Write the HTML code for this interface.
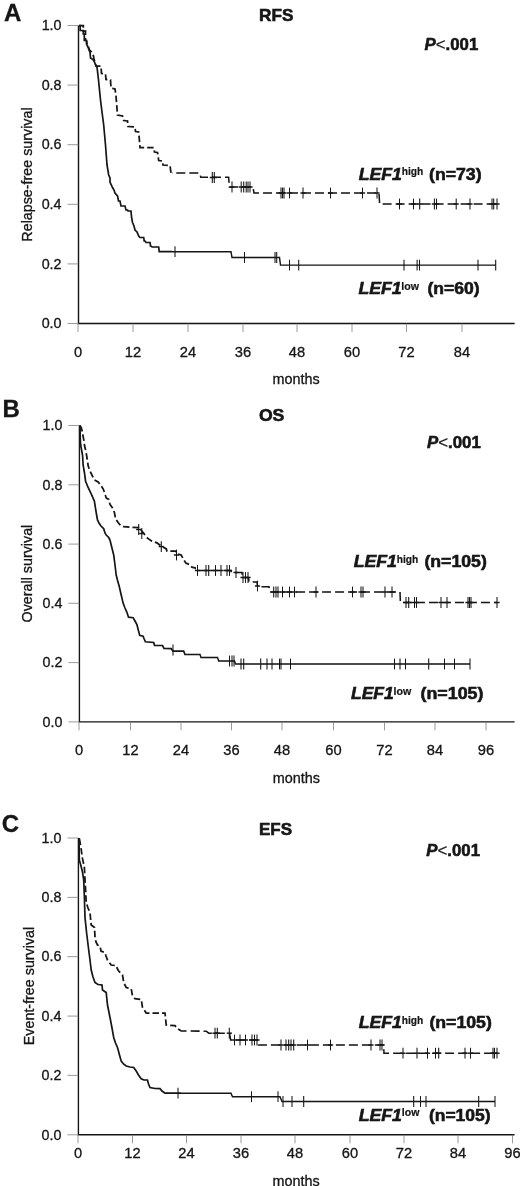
<!DOCTYPE html>
<html lang="en">
<head>
<meta charset="utf-8">
<title>LEF1 survival curves</title>
<style>
html,body{margin:0;padding:0;background:#fff;}
svg{display:block;font-family:"Liberation Sans", Arial, Helvetica, sans-serif;fill:#141414;}
</style>
</head>
<body>
<svg width="520" height="1186" viewBox="0 0 520 1186">
<rect width="520" height="1186" fill="#ffffff"/>
<filter id="soft" x="0" y="0" width="520" height="1186" filterUnits="userSpaceOnUse"><feGaussianBlur stdDeviation="0.4"/></filter>
<g filter="url(#soft)">
<path d="M78.5,25.5 V323.5 H514.6" fill="none" stroke="#141414" stroke-width="1.4"/>
<line x1="67.5" y1="25.5" x2="78.5" y2="25.5" stroke="#7a7a7a" stroke-width="0.75"/>
<text x="61.5" y="30.2" text-anchor="end" font-size="14.3" stroke="#141414" stroke-width="0.3">1.0</text>
<line x1="67.5" y1="85.1" x2="78.5" y2="85.1" stroke="#7a7a7a" stroke-width="0.75"/>
<text x="61.5" y="89.8" text-anchor="end" font-size="14.3" stroke="#141414" stroke-width="0.3">0.8</text>
<line x1="67.5" y1="144.7" x2="78.5" y2="144.7" stroke="#7a7a7a" stroke-width="0.75"/>
<text x="61.5" y="149.4" text-anchor="end" font-size="14.3" stroke="#141414" stroke-width="0.3">0.6</text>
<line x1="67.5" y1="204.3" x2="78.5" y2="204.3" stroke="#7a7a7a" stroke-width="0.75"/>
<text x="61.5" y="209.0" text-anchor="end" font-size="14.3" stroke="#141414" stroke-width="0.3">0.4</text>
<line x1="67.5" y1="263.9" x2="78.5" y2="263.9" stroke="#7a7a7a" stroke-width="0.75"/>
<text x="61.5" y="268.6" text-anchor="end" font-size="14.3" stroke="#141414" stroke-width="0.3">0.2</text>
<line x1="67.5" y1="323.5" x2="78.5" y2="323.5" stroke="#7a7a7a" stroke-width="0.75"/>
<text x="61.5" y="328.2" text-anchor="end" font-size="14.3" stroke="#141414" stroke-width="0.3">0.0</text>
<line x1="78" y1="323.5" x2="78" y2="332.0" stroke="#7a7a7a" stroke-width="0.75"/>
<text x="78" y="356.7" text-anchor="middle" font-size="14.7" stroke="#141414" stroke-width="0.3">0</text>
<line x1="133" y1="323.5" x2="133" y2="332.0" stroke="#7a7a7a" stroke-width="0.75"/>
<text x="133" y="356.7" text-anchor="middle" font-size="14.7" stroke="#141414" stroke-width="0.3">12</text>
<line x1="188" y1="323.5" x2="188" y2="332.0" stroke="#7a7a7a" stroke-width="0.75"/>
<text x="188" y="356.7" text-anchor="middle" font-size="14.7" stroke="#141414" stroke-width="0.3">24</text>
<line x1="243" y1="323.5" x2="243" y2="332.0" stroke="#7a7a7a" stroke-width="0.75"/>
<text x="243" y="356.7" text-anchor="middle" font-size="14.7" stroke="#141414" stroke-width="0.3">36</text>
<line x1="297" y1="323.5" x2="297" y2="332.0" stroke="#7a7a7a" stroke-width="0.75"/>
<text x="297" y="356.7" text-anchor="middle" font-size="14.7" stroke="#141414" stroke-width="0.3">48</text>
<line x1="352" y1="323.5" x2="352" y2="332.0" stroke="#7a7a7a" stroke-width="0.75"/>
<text x="352" y="356.7" text-anchor="middle" font-size="14.7" stroke="#141414" stroke-width="0.3">60</text>
<line x1="406.5" y1="323.5" x2="406.5" y2="332.0" stroke="#7a7a7a" stroke-width="0.75"/>
<text x="406.5" y="356.7" text-anchor="middle" font-size="14.7" stroke="#141414" stroke-width="0.3">72</text>
<line x1="462" y1="323.5" x2="462" y2="332.0" stroke="#7a7a7a" stroke-width="0.75"/>
<text x="462" y="356.7" text-anchor="middle" font-size="14.7" stroke="#141414" stroke-width="0.3">84</text>
<text x="272.6" y="384.2" font-size="14.4" stroke="#141414" stroke-width="0.3">months</text>
<text x="4.0" y="20.5" font-size="24" font-weight="bold" stroke="#141414" stroke-width="0.3">A</text>
<text x="259.0" y="20.8" font-size="16.6" font-weight="bold" textLength="34.4" lengthAdjust="spacingAndGlyphs" stroke="#141414" stroke-width="0.55">RFS</text>
<text x="424.6" y="49.8" font-size="16.8" font-weight="bold" textLength="53.7" lengthAdjust="spacingAndGlyphs" stroke="#141414" stroke-width="0.55"><tspan font-style="italic">P</tspan><tspan font-weight="normal" stroke-width="0.2">&lt;</tspan>.001</text>
<text transform="translate(32.0,174.5) rotate(-90)" text-anchor="middle" font-size="14.3" stroke="#141414" stroke-width="0.3">Relapse-free survival</text>
<text x="358.7" y="180.0" font-size="16" font-weight="bold" font-style="italic" textLength="43.2" lengthAdjust="spacingAndGlyphs" stroke="#141414" stroke-width="0.55">LEF1</text>
<text x="401.8" y="175.4" font-size="10.2" font-weight="bold" textLength="21.5" lengthAdjust="spacingAndGlyphs" stroke="#141414" stroke-width="0.2">high</text>
<text x="429.0" y="179.8" font-size="16.3" font-weight="bold" textLength="52.6" lengthAdjust="spacingAndGlyphs" stroke="#141414" stroke-width="0.55">(n=73)</text>
<text x="358.4" y="294.2" font-size="16" font-weight="bold" font-style="italic" textLength="43.1" lengthAdjust="spacingAndGlyphs" stroke="#141414" stroke-width="0.55">LEF1</text>
<text x="401.3" y="289.6" font-size="10.2" font-weight="bold" textLength="17.7" lengthAdjust="spacingAndGlyphs" stroke="#141414" stroke-width="0.2">low</text>
<text x="427.5" y="293.8" font-size="16.3" font-weight="bold" textLength="52.2" lengthAdjust="spacingAndGlyphs" stroke="#141414" stroke-width="0.55">(n=60)</text>
<clipPath id="clipAL"><rect x="0" y="17.5" width="172" height="306.0"/></clipPath>
<clipPath id="clipAR"><rect x="172" y="17.5" width="348" height="306.0"/></clipPath>
<path d="M79.0,25.5 L80.2,25.5 L80.2,30.5 L83.3,30.5 L83.3,34.0 L84.3,34.0 L84.3,40.5 L86.5,40.5 L86.5,44.0 L88.0,47.0 L89.0,50.0 L90.0,52.0 L90.5,58.0 L93.0,59.5 L94.5,62.0 L96.0,66.0 L97.0,67.0 L98.5,80.0 L100.5,100.0 L102.0,112.0 L103.7,125.0 L105.5,145.0 L107.0,165.0 L108.7,175.0 L110.0,178.0 L110.0,182.0 L112.5,187.5 L114.0,190.0 L115.0,193.0 L117.5,196.0 L118.5,201.0 L120.0,201.0 L121.0,206.0 L125.0,206.0 L126.0,210.0 L127.5,210.0 L128.0,211.0 L131.0,211.0 L131.5,217.0 L132.5,222.5 L134.0,226.0 L135.0,230.0 L137.0,232.0 L138.7,236.0 L140.0,237.5 L143.7,237.5 L144.2,241.0 L145.0,241.0 L146.0,242.5 L150.0,242.5 L150.5,246.0 L151.0,246.0 L152.0,247.0 L158.7,247.0 L159.2,251.7 L231.0,251.7 L232.0,257.5 L279.5,257.5 L280.5,265.1 L495.7,265.1" fill="none" stroke="#141414" stroke-width="1.7" stroke-linejoin="miter" clip-path="url(#clipAL)"/>
<path d="M79.0,25.5 L80.2,25.5 L80.2,30.5 L83.3,30.5 L83.3,34.0 L84.3,34.0 L84.3,40.5 L86.5,40.5 L86.5,44.0 L88.0,47.0 L89.0,50.0 L90.0,52.0 L90.5,58.0 L93.0,59.5 L94.5,62.0 L96.0,66.0 L97.0,67.0 L98.5,80.0 L100.5,100.0 L102.0,112.0 L103.7,125.0 L105.5,145.0 L107.0,165.0 L108.7,175.0 L110.0,178.0 L110.0,182.0 L112.5,187.5 L114.0,190.0 L115.0,193.0 L117.5,196.0 L118.5,201.0 L120.0,201.0 L121.0,206.0 L125.0,206.0 L126.0,210.0 L127.5,210.0 L128.0,211.0 L131.0,211.0 L131.5,217.0 L132.5,222.5 L134.0,226.0 L135.0,230.0 L137.0,232.0 L138.7,236.0 L140.0,237.5 L143.7,237.5 L144.2,241.0 L145.0,241.0 L146.0,242.5 L150.0,242.5 L150.5,246.0 L151.0,246.0 L152.0,247.0 L158.7,247.0 L159.2,251.7 L231.0,251.7 L232.0,257.5 L279.5,257.5 L280.5,265.1 L495.7,265.1" fill="none" stroke="#141414" stroke-width="1.45" stroke-linejoin="miter" clip-path="url(#clipAR)"/>
<path d="M79.0,25.5 L83.3,25.5 L83.3,31.0 L85.5,31.0 L85.5,40.0 L86.5,41.0 L87.0,43.0 L88.5,47.0 L89.5,50.0 L91.5,52.0 L93.5,56.0 L94.0,59.0 L95.0,62.0 L96.0,66.0 L101.0,66.0 L101.5,73.5 L105.5,74.0 L106.0,79.5 L110.5,80.0 L111.0,88.0 L115.0,89.0 L116.0,96.0 L117.5,115.0 L122.5,116.0 L123.7,120.5 L127.5,121.0 L128.0,126.5 L135.0,127.0 L135.5,131.5 L138.7,132.0 L140.0,147.5 L153.7,147.5 L154.5,152.0 L157.5,152.5 L158.7,160.5 L162.5,161.0 L163.0,165.0 L170.0,165.5 L171.0,173.0 L199.6,173.0 L200.8,177.3 L228.6,177.3 L229.4,187.0 L253.0,187.0 L254.0,193.0 L379.0,193.0 L379.6,204.0 L497.5,204.0" fill="none" stroke="#141414" stroke-width="1.75" stroke-dasharray="6.5 3" clip-path="url(#clipAL)"/>
<path d="M79.0,25.5 L83.3,25.5 L83.3,31.0 L85.5,31.0 L85.5,40.0 L86.5,41.0 L87.0,43.0 L88.5,47.0 L89.5,50.0 L91.5,52.0 L93.5,56.0 L94.0,59.0 L95.0,62.0 L96.0,66.0 L101.0,66.0 L101.5,73.5 L105.5,74.0 L106.0,79.5 L110.5,80.0 L111.0,88.0 L115.0,89.0 L116.0,96.0 L117.5,115.0 L122.5,116.0 L123.7,120.5 L127.5,121.0 L128.0,126.5 L135.0,127.0 L135.5,131.5 L138.7,132.0 L140.0,147.5 L153.7,147.5 L154.5,152.0 L157.5,152.5 L158.7,160.5 L162.5,161.0 L163.0,165.0 L170.0,165.5 L171.0,173.0 L199.6,173.0 L200.8,177.3 L228.6,177.3 L229.4,187.0 L253.0,187.0 L254.0,193.0 L379.0,193.0 L379.6,204.0 L497.5,204.0" fill="none" stroke="#141414" stroke-width="1.55" stroke-dasharray="9 4" clip-path="url(#clipAR)"/>
<line x1="175.0" y1="246.3" x2="175.0" y2="257.1" stroke="#141414" stroke-width="1.05"/>
<line x1="244.5" y1="252.1" x2="244.5" y2="262.9" stroke="#141414" stroke-width="1.05"/><line x1="275.0" y1="252.1" x2="275.0" y2="262.9" stroke="#141414" stroke-width="1.05"/><line x1="276.7" y1="252.1" x2="276.7" y2="262.9" stroke="#141414" stroke-width="1.05"/>
<line x1="289.5" y1="259.7" x2="289.5" y2="270.5" stroke="#141414" stroke-width="1.05"/><line x1="298.7" y1="259.7" x2="298.7" y2="270.5" stroke="#141414" stroke-width="1.05"/><line x1="404.0" y1="259.7" x2="404.0" y2="270.5" stroke="#141414" stroke-width="1.05"/><line x1="417.1" y1="259.7" x2="417.1" y2="270.5" stroke="#141414" stroke-width="1.05"/><line x1="419.5" y1="259.7" x2="419.5" y2="270.5" stroke="#141414" stroke-width="1.05"/><line x1="478.0" y1="259.7" x2="478.0" y2="270.5" stroke="#141414" stroke-width="1.05"/><line x1="495.7" y1="259.7" x2="495.7" y2="270.5" stroke="#141414" stroke-width="1.05"/>
<line x1="212.3" y1="172.1" x2="212.3" y2="182.9" stroke="#141414" stroke-width="1.05"/><line x1="209.7" y1="177.5" x2="214.9" y2="177.5" stroke="#141414" stroke-width="1.45"/><line x1="214.3" y1="172.1" x2="214.3" y2="182.9" stroke="#141414" stroke-width="1.05"/><line x1="211.7" y1="177.5" x2="216.9" y2="177.5" stroke="#141414" stroke-width="1.45"/>
<line x1="232.0" y1="181.6" x2="232.0" y2="192.4" stroke="#141414" stroke-width="1.05"/><line x1="229.4" y1="187.0" x2="234.6" y2="187.0" stroke="#141414" stroke-width="1.45"/><line x1="241.2" y1="181.6" x2="241.2" y2="192.4" stroke="#141414" stroke-width="1.05"/><line x1="238.6" y1="187.0" x2="243.8" y2="187.0" stroke="#141414" stroke-width="1.45"/><line x1="243.7" y1="181.6" x2="243.7" y2="192.4" stroke="#141414" stroke-width="1.05"/><line x1="241.1" y1="187.0" x2="246.3" y2="187.0" stroke="#141414" stroke-width="1.45"/><line x1="246.2" y1="181.6" x2="246.2" y2="192.4" stroke="#141414" stroke-width="1.05"/><line x1="243.6" y1="187.0" x2="248.8" y2="187.0" stroke="#141414" stroke-width="1.45"/><line x1="248.0" y1="181.6" x2="248.0" y2="192.4" stroke="#141414" stroke-width="1.05"/><line x1="245.4" y1="187.0" x2="250.6" y2="187.0" stroke="#141414" stroke-width="1.45"/><line x1="250.0" y1="181.6" x2="250.0" y2="192.4" stroke="#141414" stroke-width="1.05"/><line x1="247.4" y1="187.0" x2="252.6" y2="187.0" stroke="#141414" stroke-width="1.45"/>
<line x1="281.0" y1="187.6" x2="281.0" y2="198.4" stroke="#141414" stroke-width="1.05"/><line x1="278.4" y1="193.0" x2="283.6" y2="193.0" stroke="#141414" stroke-width="1.45"/><line x1="282.5" y1="187.6" x2="282.5" y2="198.4" stroke="#141414" stroke-width="1.05"/><line x1="279.9" y1="193.0" x2="285.1" y2="193.0" stroke="#141414" stroke-width="1.45"/><line x1="284.0" y1="187.6" x2="284.0" y2="198.4" stroke="#141414" stroke-width="1.05"/><line x1="281.4" y1="193.0" x2="286.6" y2="193.0" stroke="#141414" stroke-width="1.45"/><line x1="289.5" y1="187.6" x2="289.5" y2="198.4" stroke="#141414" stroke-width="1.05"/><line x1="286.9" y1="193.0" x2="292.1" y2="193.0" stroke="#141414" stroke-width="1.45"/><line x1="303.0" y1="187.6" x2="303.0" y2="198.4" stroke="#141414" stroke-width="1.05"/><line x1="300.4" y1="193.0" x2="305.6" y2="193.0" stroke="#141414" stroke-width="1.45"/><line x1="330.5" y1="187.6" x2="330.5" y2="198.4" stroke="#141414" stroke-width="1.05"/><line x1="327.9" y1="193.0" x2="333.1" y2="193.0" stroke="#141414" stroke-width="1.45"/><line x1="362.5" y1="187.6" x2="362.5" y2="198.4" stroke="#141414" stroke-width="1.05"/><line x1="359.9" y1="193.0" x2="365.1" y2="193.0" stroke="#141414" stroke-width="1.45"/><line x1="377.0" y1="187.6" x2="377.0" y2="198.4" stroke="#141414" stroke-width="1.05"/><line x1="374.4" y1="193.0" x2="379.6" y2="193.0" stroke="#141414" stroke-width="1.45"/>
<line x1="399.5" y1="198.6" x2="399.5" y2="209.4" stroke="#141414" stroke-width="1.05"/><line x1="396.9" y1="204.0" x2="402.1" y2="204.0" stroke="#141414" stroke-width="1.45"/><line x1="413.5" y1="198.6" x2="413.5" y2="209.4" stroke="#141414" stroke-width="1.05"/><line x1="410.9" y1="204.0" x2="416.1" y2="204.0" stroke="#141414" stroke-width="1.45"/><line x1="419.7" y1="198.6" x2="419.7" y2="209.4" stroke="#141414" stroke-width="1.05"/><line x1="417.1" y1="204.0" x2="422.3" y2="204.0" stroke="#141414" stroke-width="1.45"/><line x1="434.4" y1="198.6" x2="434.4" y2="209.4" stroke="#141414" stroke-width="1.05"/><line x1="431.8" y1="204.0" x2="437.0" y2="204.0" stroke="#141414" stroke-width="1.45"/><line x1="436.5" y1="198.6" x2="436.5" y2="209.4" stroke="#141414" stroke-width="1.05"/><line x1="433.9" y1="204.0" x2="439.1" y2="204.0" stroke="#141414" stroke-width="1.45"/><line x1="456.2" y1="198.6" x2="456.2" y2="209.4" stroke="#141414" stroke-width="1.05"/><line x1="453.6" y1="204.0" x2="458.8" y2="204.0" stroke="#141414" stroke-width="1.45"/><line x1="470.0" y1="198.6" x2="470.0" y2="209.4" stroke="#141414" stroke-width="1.05"/><line x1="467.4" y1="204.0" x2="472.6" y2="204.0" stroke="#141414" stroke-width="1.45"/><line x1="492.0" y1="198.6" x2="492.0" y2="209.4" stroke="#141414" stroke-width="1.05"/><line x1="489.4" y1="204.0" x2="494.6" y2="204.0" stroke="#141414" stroke-width="1.45"/><line x1="493.7" y1="198.6" x2="493.7" y2="209.4" stroke="#141414" stroke-width="1.05"/><line x1="491.1" y1="204.0" x2="496.3" y2="204.0" stroke="#141414" stroke-width="1.45"/><line x1="497.0" y1="198.6" x2="497.0" y2="209.4" stroke="#141414" stroke-width="1.05"/><line x1="494.4" y1="204.0" x2="499.6" y2="204.0" stroke="#141414" stroke-width="1.45"/>
<path d="M79.4,425.5 V721.9 H514.6" fill="none" stroke="#141414" stroke-width="1.4"/>
<line x1="68.4" y1="425.5" x2="79.4" y2="425.5" stroke="#7a7a7a" stroke-width="0.75"/>
<text x="62.400000000000006" y="430.2" text-anchor="end" font-size="14.3" stroke="#141414" stroke-width="0.3">1.0</text>
<line x1="68.4" y1="484.8" x2="79.4" y2="484.8" stroke="#7a7a7a" stroke-width="0.75"/>
<text x="62.400000000000006" y="489.5" text-anchor="end" font-size="14.3" stroke="#141414" stroke-width="0.3">0.8</text>
<line x1="68.4" y1="544.1" x2="79.4" y2="544.1" stroke="#7a7a7a" stroke-width="0.75"/>
<text x="62.400000000000006" y="548.8" text-anchor="end" font-size="14.3" stroke="#141414" stroke-width="0.3">0.6</text>
<line x1="68.4" y1="603.3" x2="79.4" y2="603.3" stroke="#7a7a7a" stroke-width="0.75"/>
<text x="62.400000000000006" y="608.0" text-anchor="end" font-size="14.3" stroke="#141414" stroke-width="0.3">0.4</text>
<line x1="68.4" y1="662.6" x2="79.4" y2="662.6" stroke="#7a7a7a" stroke-width="0.75"/>
<text x="62.400000000000006" y="667.3" text-anchor="end" font-size="14.3" stroke="#141414" stroke-width="0.3">0.2</text>
<line x1="68.4" y1="721.9" x2="79.4" y2="721.9" stroke="#7a7a7a" stroke-width="0.75"/>
<text x="62.400000000000006" y="726.6" text-anchor="end" font-size="14.3" stroke="#141414" stroke-width="0.3">0.0</text>
<line x1="79" y1="721.9" x2="79" y2="730.4" stroke="#7a7a7a" stroke-width="0.75"/>
<text x="79" y="755.3" text-anchor="middle" font-size="14.7" stroke="#141414" stroke-width="0.3">0</text>
<line x1="130.5" y1="721.9" x2="130.5" y2="730.4" stroke="#7a7a7a" stroke-width="0.75"/>
<text x="130.5" y="755.3" text-anchor="middle" font-size="14.7" stroke="#141414" stroke-width="0.3">12</text>
<line x1="181" y1="721.9" x2="181" y2="730.4" stroke="#7a7a7a" stroke-width="0.75"/>
<text x="181" y="755.3" text-anchor="middle" font-size="14.7" stroke="#141414" stroke-width="0.3">24</text>
<line x1="231.5" y1="721.9" x2="231.5" y2="730.4" stroke="#7a7a7a" stroke-width="0.75"/>
<text x="231.5" y="755.3" text-anchor="middle" font-size="14.7" stroke="#141414" stroke-width="0.3">36</text>
<line x1="282" y1="721.9" x2="282" y2="730.4" stroke="#7a7a7a" stroke-width="0.75"/>
<text x="282" y="755.3" text-anchor="middle" font-size="14.7" stroke="#141414" stroke-width="0.3">48</text>
<line x1="333.5" y1="721.9" x2="333.5" y2="730.4" stroke="#7a7a7a" stroke-width="0.75"/>
<text x="333.5" y="755.3" text-anchor="middle" font-size="14.7" stroke="#141414" stroke-width="0.3">60</text>
<line x1="384.5" y1="721.9" x2="384.5" y2="730.4" stroke="#7a7a7a" stroke-width="0.75"/>
<text x="384.5" y="755.3" text-anchor="middle" font-size="14.7" stroke="#141414" stroke-width="0.3">72</text>
<line x1="435" y1="721.9" x2="435" y2="730.4" stroke="#7a7a7a" stroke-width="0.75"/>
<text x="435" y="755.3" text-anchor="middle" font-size="14.7" stroke="#141414" stroke-width="0.3">84</text>
<line x1="486" y1="721.9" x2="486" y2="730.4" stroke="#7a7a7a" stroke-width="0.75"/>
<text x="486" y="755.3" text-anchor="middle" font-size="14.7" stroke="#141414" stroke-width="0.3">96</text>
<text x="272.8" y="783.0" font-size="14.4" stroke="#141414" stroke-width="0.3">months</text>
<text x="2.4" y="417.3" font-size="24" font-weight="bold" stroke="#141414" stroke-width="0.3">B</text>
<text x="258.9" y="420.9" font-size="16.6" font-weight="bold" textLength="25.5" lengthAdjust="spacingAndGlyphs" stroke="#141414" stroke-width="0.55">OS</text>
<text x="426.9" y="448.0" font-size="16.8" font-weight="bold" textLength="53.9" lengthAdjust="spacingAndGlyphs" stroke="#141414" stroke-width="0.55"><tspan font-style="italic">P</tspan><tspan font-weight="normal" stroke-width="0.2">&lt;</tspan>.001</text>
<text transform="translate(32.0,573.6) rotate(-90)" text-anchor="middle" font-size="14.3" stroke="#141414" stroke-width="0.3">Overall survival</text>
<text x="353.7" y="567.2" font-size="16" font-weight="bold" font-style="italic" textLength="43.2" lengthAdjust="spacingAndGlyphs" stroke="#141414" stroke-width="0.55">LEF1</text>
<text x="396.8" y="563.0" font-size="10.2" font-weight="bold" textLength="21.5" lengthAdjust="spacingAndGlyphs" stroke="#141414" stroke-width="0.2">high</text>
<text x="424.4" y="566.8" font-size="16.3" font-weight="bold" textLength="62.4" lengthAdjust="spacingAndGlyphs" stroke="#141414" stroke-width="0.55">(n=105)</text>
<text x="351.0" y="699.2" font-size="16" font-weight="bold" font-style="italic" textLength="42.7" lengthAdjust="spacingAndGlyphs" stroke="#141414" stroke-width="0.55">LEF1</text>
<text x="393.6" y="694.6" font-size="10.2" font-weight="bold" textLength="17.8" lengthAdjust="spacingAndGlyphs" stroke="#141414" stroke-width="0.2">low</text>
<text x="420.5" y="698.8" font-size="16.3" font-weight="bold" textLength="62.9" lengthAdjust="spacingAndGlyphs" stroke="#141414" stroke-width="0.55">(n=105)</text>
<clipPath id="clipBL"><rect x="0" y="417.5" width="196" height="304.4"/></clipPath>
<clipPath id="clipBR"><rect x="196" y="417.5" width="324" height="304.4"/></clipPath>
<path d="M80.0,425.5 L80.3,440.0 L80.8,446.0 L81.4,449.0 L82.6,455.5 L83.1,465.0 L84.4,472.5 L85.6,481.2 L88.1,487.5 L91.2,493.8 L94.4,501.2 L95.6,508.8 L96.6,515.0 L97.5,520.0 L99.4,523.8 L101.0,526.0 L103.7,528.7 L105.0,533.0 L106.2,535.0 L108.7,537.5 L110.0,540.0 L111.2,545.0 L113.7,555.0 L115.0,565.0 L116.2,575.0 L117.7,581.0 L119.2,586.2 L121.2,595.0 L123.1,603.1 L125.0,608.0 L126.9,612.3 L128.5,617.2 L133.1,617.7 L135.0,621.0 L136.9,624.6 L138.3,630.0 L139.7,635.4 L143.1,636.2 L144.2,639.0 L145.4,641.8 L153.7,642.5 L154.5,645.3 L162.5,645.5 L164.0,648.5 L171.2,648.7 L173.0,651.2 L183.7,651.2 L185.0,654.5 L200.0,654.5 L201.0,657.5 L217.5,657.5 L218.7,661.0 L234.5,661.0 L235.5,664.0 L470.0,664.0" fill="none" stroke="#141414" stroke-width="1.7" stroke-linejoin="miter" clip-path="url(#clipBL)"/>
<path d="M80.0,425.5 L80.3,440.0 L80.8,446.0 L81.4,449.0 L82.6,455.5 L83.1,465.0 L84.4,472.5 L85.6,481.2 L88.1,487.5 L91.2,493.8 L94.4,501.2 L95.6,508.8 L96.6,515.0 L97.5,520.0 L99.4,523.8 L101.0,526.0 L103.7,528.7 L105.0,533.0 L106.2,535.0 L108.7,537.5 L110.0,540.0 L111.2,545.0 L113.7,555.0 L115.0,565.0 L116.2,575.0 L117.7,581.0 L119.2,586.2 L121.2,595.0 L123.1,603.1 L125.0,608.0 L126.9,612.3 L128.5,617.2 L133.1,617.7 L135.0,621.0 L136.9,624.6 L138.3,630.0 L139.7,635.4 L143.1,636.2 L144.2,639.0 L145.4,641.8 L153.7,642.5 L154.5,645.3 L162.5,645.5 L164.0,648.5 L171.2,648.7 L173.0,651.2 L183.7,651.2 L185.0,654.5 L200.0,654.5 L201.0,657.5 L217.5,657.5 L218.7,661.0 L234.5,661.0 L235.5,664.0 L470.0,664.0" fill="none" stroke="#141414" stroke-width="1.45" stroke-linejoin="miter" clip-path="url(#clipBR)"/>
<path d="M80.0,425.5 L81.4,428.0 L82.4,432.0 L83.2,436.8 L84.0,441.0 L84.5,445.5 L85.6,450.0 L86.4,454.2 L87.0,458.0 L87.6,461.8 L88.2,466.0 L90.0,471.0 L92.5,476.2 L94.4,480.0 L98.1,481.9 L100.6,485.0 L103.1,488.8 L105.0,493.8 L106.2,498.0 L108.8,499.4 L110.0,504.4 L112.5,508.0 L114.4,512.5 L115.6,518.8 L118.1,522.5 L120.6,525.5 L123.7,526.7 L130.0,527.2 L138.7,527.6 L141.8,531.0 L144.8,534.8 L147.5,538.2 L151.5,540.9 L156.9,542.9 L161.4,546.2 L166.3,548.9 L167.0,551.2 L175.8,551.2 L176.6,553.6 L181.1,555.0 L183.8,559.7 L185.9,563.1 L189.2,564.4 L191.9,567.1 L195.9,568.2 L197.0,570.5 L231.0,570.5 L231.5,572.5 L242.0,572.5 L242.5,577.5 L248.5,577.5 L249.0,582.0 L257.0,582.0 L257.5,586.7 L269.0,586.7 L270.0,592.0 L400.0,592.0 L400.4,602.5 L497.0,602.5" fill="none" stroke="#141414" stroke-width="1.75" stroke-dasharray="6.5 3" clip-path="url(#clipBL)"/>
<path d="M80.0,425.5 L81.4,428.0 L82.4,432.0 L83.2,436.8 L84.0,441.0 L84.5,445.5 L85.6,450.0 L86.4,454.2 L87.0,458.0 L87.6,461.8 L88.2,466.0 L90.0,471.0 L92.5,476.2 L94.4,480.0 L98.1,481.9 L100.6,485.0 L103.1,488.8 L105.0,493.8 L106.2,498.0 L108.8,499.4 L110.0,504.4 L112.5,508.0 L114.4,512.5 L115.6,518.8 L118.1,522.5 L120.6,525.5 L123.7,526.7 L130.0,527.2 L138.7,527.6 L141.8,531.0 L144.8,534.8 L147.5,538.2 L151.5,540.9 L156.9,542.9 L161.4,546.2 L166.3,548.9 L167.0,551.2 L175.8,551.2 L176.6,553.6 L181.1,555.0 L183.8,559.7 L185.9,563.1 L189.2,564.4 L191.9,567.1 L195.9,568.2 L197.0,570.5 L231.0,570.5 L231.5,572.5 L242.0,572.5 L242.5,577.5 L248.5,577.5 L249.0,582.0 L257.0,582.0 L257.5,586.7 L269.0,586.7 L270.0,592.0 L400.0,592.0 L400.4,602.5 L497.0,602.5" fill="none" stroke="#141414" stroke-width="1.55" stroke-dasharray="9 4" clip-path="url(#clipBR)"/>
<line x1="173.0" y1="644.6" x2="173.0" y2="655.4" stroke="#141414" stroke-width="1.05"/>
<line x1="229.5" y1="655.6" x2="229.5" y2="666.4" stroke="#141414" stroke-width="1.05"/><line x1="232.0" y1="655.6" x2="232.0" y2="666.4" stroke="#141414" stroke-width="1.05"/><line x1="234.0" y1="655.6" x2="234.0" y2="666.4" stroke="#141414" stroke-width="1.05"/>
<line x1="241.0" y1="658.6" x2="241.0" y2="669.4" stroke="#141414" stroke-width="1.05"/><line x1="243.7" y1="658.6" x2="243.7" y2="669.4" stroke="#141414" stroke-width="1.05"/><line x1="260.7" y1="658.6" x2="260.7" y2="669.4" stroke="#141414" stroke-width="1.05"/><line x1="267.0" y1="658.6" x2="267.0" y2="669.4" stroke="#141414" stroke-width="1.05"/><line x1="272.0" y1="658.6" x2="272.0" y2="669.4" stroke="#141414" stroke-width="1.05"/><line x1="279.5" y1="658.6" x2="279.5" y2="669.4" stroke="#141414" stroke-width="1.05"/><line x1="281.0" y1="658.6" x2="281.0" y2="669.4" stroke="#141414" stroke-width="1.05"/><line x1="290.5" y1="658.6" x2="290.5" y2="669.4" stroke="#141414" stroke-width="1.05"/><line x1="394.5" y1="658.6" x2="394.5" y2="669.4" stroke="#141414" stroke-width="1.05"/><line x1="400.0" y1="658.6" x2="400.0" y2="669.4" stroke="#141414" stroke-width="1.05"/><line x1="405.5" y1="658.6" x2="405.5" y2="669.4" stroke="#141414" stroke-width="1.05"/><line x1="428.7" y1="658.6" x2="428.7" y2="669.4" stroke="#141414" stroke-width="1.05"/><line x1="444.5" y1="658.6" x2="444.5" y2="669.4" stroke="#141414" stroke-width="1.05"/><line x1="454.5" y1="658.6" x2="454.5" y2="669.4" stroke="#141414" stroke-width="1.05"/><line x1="470.0" y1="658.6" x2="470.0" y2="669.4" stroke="#141414" stroke-width="1.05"/>
<line x1="138.7" y1="524.1" x2="138.7" y2="534.9" stroke="#141414" stroke-width="1.05"/><line x1="136.1" y1="529.5" x2="141.3" y2="529.5" stroke="#141414" stroke-width="1.45"/>
<line x1="141.8" y1="528.1" x2="141.8" y2="538.9" stroke="#141414" stroke-width="1.05"/><line x1="139.2" y1="533.5" x2="144.4" y2="533.5" stroke="#141414" stroke-width="1.45"/>
<line x1="161.3" y1="541.2" x2="161.3" y2="552.0" stroke="#141414" stroke-width="1.05"/><line x1="158.7" y1="546.6" x2="163.9" y2="546.6" stroke="#141414" stroke-width="1.45"/>
<line x1="176.5" y1="549.6" x2="176.5" y2="560.4" stroke="#141414" stroke-width="1.05"/><line x1="173.9" y1="555.0" x2="179.1" y2="555.0" stroke="#141414" stroke-width="1.45"/>
<line x1="197.5" y1="565.1" x2="197.5" y2="575.9" stroke="#141414" stroke-width="1.05"/><line x1="194.9" y1="570.5" x2="200.1" y2="570.5" stroke="#141414" stroke-width="1.45"/><line x1="206.0" y1="565.1" x2="206.0" y2="575.9" stroke="#141414" stroke-width="1.05"/><line x1="203.4" y1="570.5" x2="208.6" y2="570.5" stroke="#141414" stroke-width="1.45"/><line x1="208.7" y1="565.1" x2="208.7" y2="575.9" stroke="#141414" stroke-width="1.05"/><line x1="206.1" y1="570.5" x2="211.3" y2="570.5" stroke="#141414" stroke-width="1.45"/><line x1="215.5" y1="565.1" x2="215.5" y2="575.9" stroke="#141414" stroke-width="1.05"/><line x1="212.9" y1="570.5" x2="218.1" y2="570.5" stroke="#141414" stroke-width="1.45"/><line x1="221.0" y1="565.1" x2="221.0" y2="575.9" stroke="#141414" stroke-width="1.05"/><line x1="218.4" y1="570.5" x2="223.6" y2="570.5" stroke="#141414" stroke-width="1.45"/><line x1="227.0" y1="565.1" x2="227.0" y2="575.9" stroke="#141414" stroke-width="1.05"/><line x1="224.4" y1="570.5" x2="229.6" y2="570.5" stroke="#141414" stroke-width="1.45"/><line x1="229.5" y1="565.1" x2="229.5" y2="575.9" stroke="#141414" stroke-width="1.05"/><line x1="226.9" y1="570.5" x2="232.1" y2="570.5" stroke="#141414" stroke-width="1.45"/>
<line x1="236.0" y1="567.1" x2="236.0" y2="577.9" stroke="#141414" stroke-width="1.05"/><line x1="233.4" y1="572.5" x2="238.6" y2="572.5" stroke="#141414" stroke-width="1.45"/>
<line x1="243.0" y1="572.1" x2="243.0" y2="582.9" stroke="#141414" stroke-width="1.05"/><line x1="240.4" y1="577.5" x2="245.6" y2="577.5" stroke="#141414" stroke-width="1.45"/><line x1="245.5" y1="572.1" x2="245.5" y2="582.9" stroke="#141414" stroke-width="1.05"/><line x1="242.9" y1="577.5" x2="248.1" y2="577.5" stroke="#141414" stroke-width="1.45"/><line x1="248.0" y1="572.1" x2="248.0" y2="582.9" stroke="#141414" stroke-width="1.05"/><line x1="245.4" y1="577.5" x2="250.6" y2="577.5" stroke="#141414" stroke-width="1.45"/>
<line x1="257.5" y1="580.6" x2="257.5" y2="591.4" stroke="#141414" stroke-width="1.05"/><line x1="254.9" y1="586.0" x2="260.1" y2="586.0" stroke="#141414" stroke-width="1.45"/>
<line x1="273.7" y1="586.6" x2="273.7" y2="597.4" stroke="#141414" stroke-width="1.05"/><line x1="271.1" y1="592.0" x2="276.3" y2="592.0" stroke="#141414" stroke-width="1.45"/><line x1="276.0" y1="586.6" x2="276.0" y2="597.4" stroke="#141414" stroke-width="1.05"/><line x1="273.4" y1="592.0" x2="278.6" y2="592.0" stroke="#141414" stroke-width="1.45"/><line x1="278.0" y1="586.6" x2="278.0" y2="597.4" stroke="#141414" stroke-width="1.05"/><line x1="275.4" y1="592.0" x2="280.6" y2="592.0" stroke="#141414" stroke-width="1.45"/><line x1="282.5" y1="586.6" x2="282.5" y2="597.4" stroke="#141414" stroke-width="1.05"/><line x1="279.9" y1="592.0" x2="285.1" y2="592.0" stroke="#141414" stroke-width="1.45"/><line x1="289.5" y1="586.6" x2="289.5" y2="597.4" stroke="#141414" stroke-width="1.05"/><line x1="286.9" y1="592.0" x2="292.1" y2="592.0" stroke="#141414" stroke-width="1.45"/><line x1="294.5" y1="586.6" x2="294.5" y2="597.4" stroke="#141414" stroke-width="1.05"/><line x1="291.9" y1="592.0" x2="297.1" y2="592.0" stroke="#141414" stroke-width="1.45"/><line x1="316.0" y1="586.6" x2="316.0" y2="597.4" stroke="#141414" stroke-width="1.05"/><line x1="313.4" y1="592.0" x2="318.6" y2="592.0" stroke="#141414" stroke-width="1.45"/><line x1="352.5" y1="586.6" x2="352.5" y2="597.4" stroke="#141414" stroke-width="1.05"/><line x1="349.9" y1="592.0" x2="355.1" y2="592.0" stroke="#141414" stroke-width="1.45"/><line x1="361.0" y1="586.6" x2="361.0" y2="597.4" stroke="#141414" stroke-width="1.05"/><line x1="358.4" y1="592.0" x2="363.6" y2="592.0" stroke="#141414" stroke-width="1.45"/><line x1="363.0" y1="586.6" x2="363.0" y2="597.4" stroke="#141414" stroke-width="1.05"/><line x1="360.4" y1="592.0" x2="365.6" y2="592.0" stroke="#141414" stroke-width="1.45"/><line x1="385.0" y1="586.6" x2="385.0" y2="597.4" stroke="#141414" stroke-width="1.05"/><line x1="382.4" y1="592.0" x2="387.6" y2="592.0" stroke="#141414" stroke-width="1.45"/><line x1="392.0" y1="586.6" x2="392.0" y2="597.4" stroke="#141414" stroke-width="1.05"/><line x1="389.4" y1="592.0" x2="394.6" y2="592.0" stroke="#141414" stroke-width="1.45"/>
<line x1="406.0" y1="597.1" x2="406.0" y2="607.9" stroke="#141414" stroke-width="1.05"/><line x1="403.4" y1="602.5" x2="408.6" y2="602.5" stroke="#141414" stroke-width="1.45"/><line x1="408.7" y1="597.1" x2="408.7" y2="607.9" stroke="#141414" stroke-width="1.05"/><line x1="406.1" y1="602.5" x2="411.3" y2="602.5" stroke="#141414" stroke-width="1.45"/><line x1="414.5" y1="597.1" x2="414.5" y2="607.9" stroke="#141414" stroke-width="1.05"/><line x1="411.9" y1="602.5" x2="417.1" y2="602.5" stroke="#141414" stroke-width="1.45"/><line x1="416.5" y1="597.1" x2="416.5" y2="607.9" stroke="#141414" stroke-width="1.05"/><line x1="413.9" y1="602.5" x2="419.1" y2="602.5" stroke="#141414" stroke-width="1.45"/><line x1="441.0" y1="597.1" x2="441.0" y2="607.9" stroke="#141414" stroke-width="1.05"/><line x1="438.4" y1="602.5" x2="443.6" y2="602.5" stroke="#141414" stroke-width="1.45"/><line x1="447.0" y1="597.1" x2="447.0" y2="607.9" stroke="#141414" stroke-width="1.05"/><line x1="444.4" y1="602.5" x2="449.6" y2="602.5" stroke="#141414" stroke-width="1.45"/><line x1="468.0" y1="597.1" x2="468.0" y2="607.9" stroke="#141414" stroke-width="1.05"/><line x1="465.4" y1="602.5" x2="470.6" y2="602.5" stroke="#141414" stroke-width="1.45"/><line x1="469.5" y1="597.1" x2="469.5" y2="607.9" stroke="#141414" stroke-width="1.05"/><line x1="466.9" y1="602.5" x2="472.1" y2="602.5" stroke="#141414" stroke-width="1.45"/><line x1="471.0" y1="597.1" x2="471.0" y2="607.9" stroke="#141414" stroke-width="1.05"/><line x1="468.4" y1="602.5" x2="473.6" y2="602.5" stroke="#141414" stroke-width="1.45"/><line x1="497.0" y1="597.1" x2="497.0" y2="607.9" stroke="#141414" stroke-width="1.05"/><line x1="494.4" y1="602.5" x2="499.6" y2="602.5" stroke="#141414" stroke-width="1.45"/>
<path d="M78.4,838 V1134.8 H514.6" fill="none" stroke="#141414" stroke-width="1.4"/>
<line x1="67.4" y1="838.0" x2="78.4" y2="838.0" stroke="#7a7a7a" stroke-width="0.75"/>
<text x="61.400000000000006" y="842.7" text-anchor="end" font-size="14.3" stroke="#141414" stroke-width="0.3">1.0</text>
<line x1="67.4" y1="897.4" x2="78.4" y2="897.4" stroke="#7a7a7a" stroke-width="0.75"/>
<text x="61.400000000000006" y="902.1" text-anchor="end" font-size="14.3" stroke="#141414" stroke-width="0.3">0.8</text>
<line x1="67.4" y1="956.7" x2="78.4" y2="956.7" stroke="#7a7a7a" stroke-width="0.75"/>
<text x="61.400000000000006" y="961.4" text-anchor="end" font-size="14.3" stroke="#141414" stroke-width="0.3">0.6</text>
<line x1="67.4" y1="1016.1" x2="78.4" y2="1016.1" stroke="#7a7a7a" stroke-width="0.75"/>
<text x="61.400000000000006" y="1020.8" text-anchor="end" font-size="14.3" stroke="#141414" stroke-width="0.3">0.4</text>
<line x1="67.4" y1="1075.4" x2="78.4" y2="1075.4" stroke="#7a7a7a" stroke-width="0.75"/>
<text x="61.400000000000006" y="1080.1" text-anchor="end" font-size="14.3" stroke="#141414" stroke-width="0.3">0.2</text>
<line x1="67.4" y1="1134.8" x2="78.4" y2="1134.8" stroke="#7a7a7a" stroke-width="0.75"/>
<text x="61.400000000000006" y="1139.5" text-anchor="end" font-size="14.3" stroke="#141414" stroke-width="0.3">0.0</text>
<line x1="78" y1="1134.8" x2="78" y2="1143.3" stroke="#7a7a7a" stroke-width="0.75"/>
<text x="78" y="1158.3" text-anchor="middle" font-size="14.7" stroke="#141414" stroke-width="0.3">0</text>
<line x1="132.5" y1="1134.8" x2="132.5" y2="1143.3" stroke="#7a7a7a" stroke-width="0.75"/>
<text x="132.5" y="1158.3" text-anchor="middle" font-size="14.7" stroke="#141414" stroke-width="0.3">12</text>
<line x1="186.5" y1="1134.8" x2="186.5" y2="1143.3" stroke="#7a7a7a" stroke-width="0.75"/>
<text x="186.5" y="1158.3" text-anchor="middle" font-size="14.7" stroke="#141414" stroke-width="0.3">24</text>
<line x1="241" y1="1134.8" x2="241" y2="1143.3" stroke="#7a7a7a" stroke-width="0.75"/>
<text x="241" y="1158.3" text-anchor="middle" font-size="14.7" stroke="#141414" stroke-width="0.3">36</text>
<line x1="295" y1="1134.8" x2="295" y2="1143.3" stroke="#7a7a7a" stroke-width="0.75"/>
<text x="295" y="1158.3" text-anchor="middle" font-size="14.7" stroke="#141414" stroke-width="0.3">48</text>
<line x1="350" y1="1134.8" x2="350" y2="1143.3" stroke="#7a7a7a" stroke-width="0.75"/>
<text x="350" y="1158.3" text-anchor="middle" font-size="14.7" stroke="#141414" stroke-width="0.3">60</text>
<line x1="404" y1="1134.8" x2="404" y2="1143.3" stroke="#7a7a7a" stroke-width="0.75"/>
<text x="404" y="1158.3" text-anchor="middle" font-size="14.7" stroke="#141414" stroke-width="0.3">72</text>
<line x1="458" y1="1134.8" x2="458" y2="1143.3" stroke="#7a7a7a" stroke-width="0.75"/>
<text x="458" y="1158.3" text-anchor="middle" font-size="14.7" stroke="#141414" stroke-width="0.3">84</text>
<line x1="512.5" y1="1134.8" x2="512.5" y2="1143.3" stroke="#7a7a7a" stroke-width="0.75"/>
<text x="512.5" y="1158.3" text-anchor="middle" font-size="14.7" stroke="#141414" stroke-width="0.3">96</text>
<text x="272.6" y="1185.9" font-size="14.4" stroke="#141414" stroke-width="0.3">months</text>
<text x="1.8" y="831.6" font-size="24" font-weight="bold" stroke="#141414" stroke-width="0.3">C</text>
<text x="259.0" y="834.7" font-size="16.6" font-weight="bold" textLength="33.1" lengthAdjust="spacingAndGlyphs" stroke="#141414" stroke-width="0.55">EFS</text>
<text x="426.3" y="856.0" font-size="16.8" font-weight="bold" textLength="53.7" lengthAdjust="spacingAndGlyphs" stroke="#141414" stroke-width="0.55"><tspan font-style="italic">P</tspan><tspan font-weight="normal" stroke-width="0.2">&lt;</tspan>.001</text>
<text transform="translate(33.6,986.0) rotate(-90)" text-anchor="middle" font-size="14.3" stroke="#141414" stroke-width="0.3">Event-free survival</text>
<text x="358.7" y="1028.3" font-size="16" font-weight="bold" font-style="italic" textLength="43.2" lengthAdjust="spacingAndGlyphs" stroke="#141414" stroke-width="0.55">LEF1</text>
<text x="401.8" y="1024.2" font-size="10.2" font-weight="bold" textLength="21.5" lengthAdjust="spacingAndGlyphs" stroke="#141414" stroke-width="0.2">high</text>
<text x="429.4" y="1028.0" font-size="16.3" font-weight="bold" textLength="62.4" lengthAdjust="spacingAndGlyphs" stroke="#141414" stroke-width="0.55">(n=105)</text>
<text x="358.7" y="1120.8" font-size="16" font-weight="bold" font-style="italic" textLength="43.2" lengthAdjust="spacingAndGlyphs" stroke="#141414" stroke-width="0.55">LEF1</text>
<text x="401.8" y="1116.2" font-size="10.2" font-weight="bold" textLength="17.6" lengthAdjust="spacingAndGlyphs" stroke="#141414" stroke-width="0.2">low</text>
<text x="428.9" y="1120.8" font-size="16.3" font-weight="bold" textLength="61.7" lengthAdjust="spacingAndGlyphs" stroke="#141414" stroke-width="0.55">(n=105)</text>
<clipPath id="clipCL"><rect x="0" y="830" width="181" height="304.79999999999995"/></clipPath>
<clipPath id="clipCR"><rect x="181" y="830" width="339" height="304.79999999999995"/></clipPath>
<path d="M79.0,838.0 L79.3,860.0 L81.0,866.0 L82.5,872.0 L83.7,880.0 L84.3,895.0 L85.0,917.5 L86.5,932.0 L88.7,950.0 L90.0,960.0 L91.2,970.0 L93.0,977.0 L95.0,982.5 L98.0,984.5 L102.0,985.0 L102.5,990.0 L106.2,992.5 L107.5,1005.0 L108.7,1011.0 L110.0,1017.5 L112.0,1028.0 L113.7,1037.5 L115.5,1043.0 L117.5,1047.5 L119.5,1055.0 L121.2,1061.0 L123.5,1064.0 L126.2,1066.0 L130.0,1067.0 L133.7,1067.5 L136.2,1071.0 L138.5,1075.0 L141.2,1078.7 L144.0,1080.0 L147.5,1080.0 L148.5,1084.0 L150.0,1087.5 L155.0,1088.5 L160.0,1088.7 L162.0,1091.0 L165.0,1093.2 L231.0,1093.2 L232.5,1096.7 L280.0,1096.7 L282.0,1101.5 L495.0,1101.5" fill="none" stroke="#141414" stroke-width="1.7" stroke-linejoin="miter" clip-path="url(#clipCL)"/>
<path d="M79.0,838.0 L79.3,860.0 L81.0,866.0 L82.5,872.0 L83.7,880.0 L84.3,895.0 L85.0,917.5 L86.5,932.0 L88.7,950.0 L90.0,960.0 L91.2,970.0 L93.0,977.0 L95.0,982.5 L98.0,984.5 L102.0,985.0 L102.5,990.0 L106.2,992.5 L107.5,1005.0 L108.7,1011.0 L110.0,1017.5 L112.0,1028.0 L113.7,1037.5 L115.5,1043.0 L117.5,1047.5 L119.5,1055.0 L121.2,1061.0 L123.5,1064.0 L126.2,1066.0 L130.0,1067.0 L133.7,1067.5 L136.2,1071.0 L138.5,1075.0 L141.2,1078.7 L144.0,1080.0 L147.5,1080.0 L148.5,1084.0 L150.0,1087.5 L155.0,1088.5 L160.0,1088.7 L162.0,1091.0 L165.0,1093.2 L231.0,1093.2 L232.5,1096.7 L280.0,1096.7 L282.0,1101.5 L495.0,1101.5" fill="none" stroke="#141414" stroke-width="1.45" stroke-linejoin="miter" clip-path="url(#clipCR)"/>
<path d="M79.4,838.7 L81.0,848.0 L82.5,858.7 L84.4,867.5 L85.0,880.0 L85.6,890.0 L86.2,902.5 L88.0,908.0 L90.0,912.5 L91.2,925.0 L94.5,927.5 L95.0,937.5 L96.0,942.0 L97.5,945.0 L100.0,946.0 L101.0,951.0 L105.0,952.5 L106.0,956.0 L107.5,960.0 L111.2,965.0 L116.2,965.7 L117.5,969.0 L118.7,971.0 L122.5,975.0 L123.7,982.5 L126.2,987.5 L131.2,988.7 L132.5,996.0 L135.0,998.7 L141.2,999.5 L142.5,1007.5 L146.2,1013.0 L165.0,1013.0 L166.2,1025.0 L175.0,1025.7 L177.5,1028.7 L181.2,1030.9 L206.2,1031.2 L208.7,1033.2 L229.6,1033.2 L230.6,1040.0 L257.5,1040.0 L258.5,1045.0 L383.6,1045.0 L384.0,1053.2 L497.5,1053.2" fill="none" stroke="#141414" stroke-width="1.75" stroke-dasharray="6.5 3" clip-path="url(#clipCL)"/>
<path d="M79.4,838.7 L81.0,848.0 L82.5,858.7 L84.4,867.5 L85.0,880.0 L85.6,890.0 L86.2,902.5 L88.0,908.0 L90.0,912.5 L91.2,925.0 L94.5,927.5 L95.0,937.5 L96.0,942.0 L97.5,945.0 L100.0,946.0 L101.0,951.0 L105.0,952.5 L106.0,956.0 L107.5,960.0 L111.2,965.0 L116.2,965.7 L117.5,969.0 L118.7,971.0 L122.5,975.0 L123.7,982.5 L126.2,987.5 L131.2,988.7 L132.5,996.0 L135.0,998.7 L141.2,999.5 L142.5,1007.5 L146.2,1013.0 L165.0,1013.0 L166.2,1025.0 L175.0,1025.7 L177.5,1028.7 L181.2,1030.9 L206.2,1031.2 L208.7,1033.2 L229.6,1033.2 L230.6,1040.0 L257.5,1040.0 L258.5,1045.0 L383.6,1045.0 L384.0,1053.2 L497.5,1053.2" fill="none" stroke="#141414" stroke-width="1.55" stroke-dasharray="9 4" clip-path="url(#clipCR)"/>
<line x1="178.0" y1="1087.8" x2="178.0" y2="1098.6" stroke="#141414" stroke-width="1.05"/>
<line x1="251.5" y1="1091.3" x2="251.5" y2="1102.1" stroke="#141414" stroke-width="1.05"/><line x1="278.0" y1="1091.3" x2="278.0" y2="1102.1" stroke="#141414" stroke-width="1.05"/>
<line x1="283.0" y1="1096.1" x2="283.0" y2="1106.9" stroke="#141414" stroke-width="1.05"/><line x1="292.0" y1="1096.1" x2="292.0" y2="1106.9" stroke="#141414" stroke-width="1.05"/><line x1="303.7" y1="1096.1" x2="303.7" y2="1106.9" stroke="#141414" stroke-width="1.05"/><line x1="413.7" y1="1096.1" x2="413.7" y2="1106.9" stroke="#141414" stroke-width="1.05"/><line x1="420.5" y1="1096.1" x2="420.5" y2="1106.9" stroke="#141414" stroke-width="1.05"/><line x1="426.0" y1="1096.1" x2="426.0" y2="1106.9" stroke="#141414" stroke-width="1.05"/><line x1="478.7" y1="1096.1" x2="478.7" y2="1106.9" stroke="#141414" stroke-width="1.05"/><line x1="495.0" y1="1096.1" x2="495.0" y2="1106.9" stroke="#141414" stroke-width="1.05"/>
<line x1="215.0" y1="1027.8" x2="215.0" y2="1038.6" stroke="#141414" stroke-width="1.05"/><line x1="212.4" y1="1033.2" x2="217.6" y2="1033.2" stroke="#141414" stroke-width="1.45"/><line x1="217.3" y1="1027.8" x2="217.3" y2="1038.6" stroke="#141414" stroke-width="1.05"/><line x1="214.7" y1="1033.2" x2="219.9" y2="1033.2" stroke="#141414" stroke-width="1.45"/><line x1="229.3" y1="1027.8" x2="229.3" y2="1038.6" stroke="#141414" stroke-width="1.05"/><line x1="226.7" y1="1033.2" x2="231.9" y2="1033.2" stroke="#141414" stroke-width="1.45"/>
<line x1="234.5" y1="1034.6" x2="234.5" y2="1045.4" stroke="#141414" stroke-width="1.05"/><line x1="231.9" y1="1040.0" x2="237.1" y2="1040.0" stroke="#141414" stroke-width="1.45"/><line x1="240.0" y1="1034.6" x2="240.0" y2="1045.4" stroke="#141414" stroke-width="1.05"/><line x1="237.4" y1="1040.0" x2="242.6" y2="1040.0" stroke="#141414" stroke-width="1.45"/><line x1="245.5" y1="1034.6" x2="245.5" y2="1045.4" stroke="#141414" stroke-width="1.05"/><line x1="242.9" y1="1040.0" x2="248.1" y2="1040.0" stroke="#141414" stroke-width="1.45"/><line x1="252.0" y1="1034.6" x2="252.0" y2="1045.4" stroke="#141414" stroke-width="1.05"/><line x1="249.4" y1="1040.0" x2="254.6" y2="1040.0" stroke="#141414" stroke-width="1.45"/><line x1="254.5" y1="1034.6" x2="254.5" y2="1045.4" stroke="#141414" stroke-width="1.05"/><line x1="251.9" y1="1040.0" x2="257.1" y2="1040.0" stroke="#141414" stroke-width="1.45"/><line x1="257.0" y1="1034.6" x2="257.0" y2="1045.4" stroke="#141414" stroke-width="1.05"/><line x1="254.4" y1="1040.0" x2="259.6" y2="1040.0" stroke="#141414" stroke-width="1.45"/>
<line x1="281.0" y1="1039.6" x2="281.0" y2="1050.4" stroke="#141414" stroke-width="1.05"/><line x1="278.4" y1="1045.0" x2="283.6" y2="1045.0" stroke="#141414" stroke-width="1.45"/><line x1="286.0" y1="1039.6" x2="286.0" y2="1050.4" stroke="#141414" stroke-width="1.05"/><line x1="283.4" y1="1045.0" x2="288.6" y2="1045.0" stroke="#141414" stroke-width="1.45"/><line x1="288.7" y1="1039.6" x2="288.7" y2="1050.4" stroke="#141414" stroke-width="1.05"/><line x1="286.1" y1="1045.0" x2="291.3" y2="1045.0" stroke="#141414" stroke-width="1.45"/><line x1="291.0" y1="1039.6" x2="291.0" y2="1050.4" stroke="#141414" stroke-width="1.05"/><line x1="288.4" y1="1045.0" x2="293.6" y2="1045.0" stroke="#141414" stroke-width="1.45"/><line x1="293.7" y1="1039.6" x2="293.7" y2="1050.4" stroke="#141414" stroke-width="1.05"/><line x1="291.1" y1="1045.0" x2="296.3" y2="1045.0" stroke="#141414" stroke-width="1.45"/><line x1="307.5" y1="1039.6" x2="307.5" y2="1050.4" stroke="#141414" stroke-width="1.05"/><line x1="304.9" y1="1045.0" x2="310.1" y2="1045.0" stroke="#141414" stroke-width="1.45"/><line x1="330.5" y1="1039.6" x2="330.5" y2="1050.4" stroke="#141414" stroke-width="1.05"/><line x1="327.9" y1="1045.0" x2="333.1" y2="1045.0" stroke="#141414" stroke-width="1.45"/><line x1="371.0" y1="1039.6" x2="371.0" y2="1050.4" stroke="#141414" stroke-width="1.05"/><line x1="368.4" y1="1045.0" x2="373.6" y2="1045.0" stroke="#141414" stroke-width="1.45"/><line x1="380.0" y1="1039.6" x2="380.0" y2="1050.4" stroke="#141414" stroke-width="1.05"/><line x1="377.4" y1="1045.0" x2="382.6" y2="1045.0" stroke="#141414" stroke-width="1.45"/><line x1="382.0" y1="1039.6" x2="382.0" y2="1050.4" stroke="#141414" stroke-width="1.05"/><line x1="379.4" y1="1045.0" x2="384.6" y2="1045.0" stroke="#141414" stroke-width="1.45"/>
<line x1="403.0" y1="1047.8" x2="403.0" y2="1058.6" stroke="#141414" stroke-width="1.05"/><line x1="400.4" y1="1053.2" x2="405.6" y2="1053.2" stroke="#141414" stroke-width="1.45"/><line x1="417.0" y1="1047.8" x2="417.0" y2="1058.6" stroke="#141414" stroke-width="1.05"/><line x1="414.4" y1="1053.2" x2="419.6" y2="1053.2" stroke="#141414" stroke-width="1.45"/><line x1="427.5" y1="1047.8" x2="427.5" y2="1058.6" stroke="#141414" stroke-width="1.05"/><line x1="424.9" y1="1053.2" x2="430.1" y2="1053.2" stroke="#141414" stroke-width="1.45"/><line x1="435.5" y1="1047.8" x2="435.5" y2="1058.6" stroke="#141414" stroke-width="1.05"/><line x1="432.9" y1="1053.2" x2="438.1" y2="1053.2" stroke="#141414" stroke-width="1.45"/><line x1="438.7" y1="1047.8" x2="438.7" y2="1058.6" stroke="#141414" stroke-width="1.05"/><line x1="436.1" y1="1053.2" x2="441.3" y2="1053.2" stroke="#141414" stroke-width="1.45"/><line x1="465.0" y1="1047.8" x2="465.0" y2="1058.6" stroke="#141414" stroke-width="1.05"/><line x1="462.4" y1="1053.2" x2="467.6" y2="1053.2" stroke="#141414" stroke-width="1.45"/><line x1="470.5" y1="1047.8" x2="470.5" y2="1058.6" stroke="#141414" stroke-width="1.05"/><line x1="467.9" y1="1053.2" x2="473.1" y2="1053.2" stroke="#141414" stroke-width="1.45"/><line x1="493.0" y1="1047.8" x2="493.0" y2="1058.6" stroke="#141414" stroke-width="1.05"/><line x1="490.4" y1="1053.2" x2="495.6" y2="1053.2" stroke="#141414" stroke-width="1.45"/><line x1="494.5" y1="1047.8" x2="494.5" y2="1058.6" stroke="#141414" stroke-width="1.05"/><line x1="491.9" y1="1053.2" x2="497.1" y2="1053.2" stroke="#141414" stroke-width="1.45"/><line x1="497.0" y1="1047.8" x2="497.0" y2="1058.6" stroke="#141414" stroke-width="1.05"/><line x1="494.4" y1="1053.2" x2="499.6" y2="1053.2" stroke="#141414" stroke-width="1.45"/>
</g>
</svg>
</body>
</html>
